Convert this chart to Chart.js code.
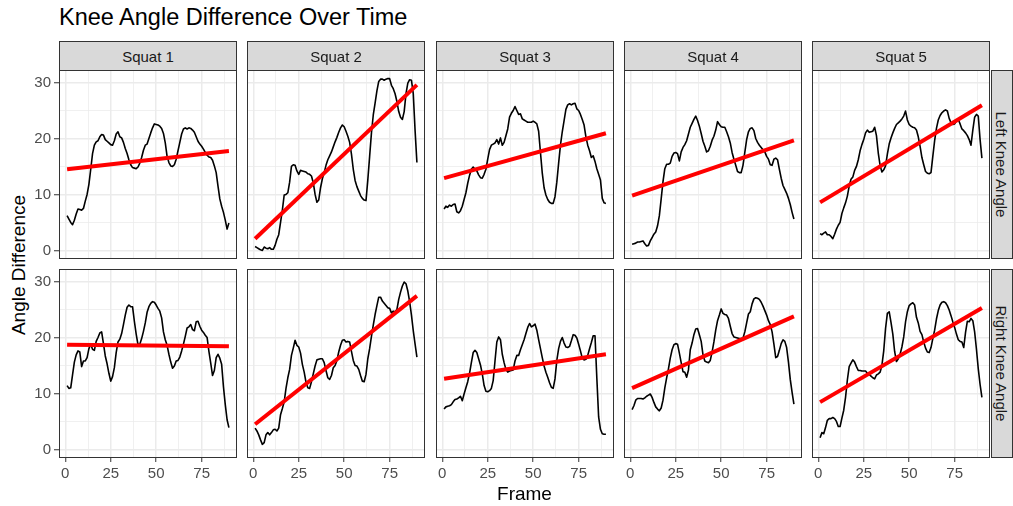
<!DOCTYPE html>
<html>
<head>
<meta charset="utf-8">
<script src="https://cdn.jsdelivr.net/npm/chart.js@4/dist/chart.umd.min.js"></script>
<style>
  html, body { margin: 0; padding: 0; background: #ffffff; }
  #fig { position: relative; width: 1013px; height: 506px; overflow: hidden;
         font-family: "Liberation Sans", Arial, sans-serif; background: #ffffff; }
  #fig canvas { position: absolute; }
  .txt { position: absolute; white-space: nowrap; }
  .strip { position: absolute; box-sizing: border-box; background: #D9D9D9;
           border: 1px solid #333333; color: #1A1A1A; font-size: 15px;
           display: flex; align-items: center; justify-content: center; }
  .strip span { white-space: nowrap; display: block; }
  .vstrip span { transform: rotate(90deg); }
</style>
</head>
<body>
<div id="fig"></div>
<script>
// ---- facet labels and axis ticks ----
const squats = ['Squat 1', 'Squat 2', 'Squat 3', 'Squat 4', 'Squat 5'];
const sides = ['Left Knee Angle', 'Right Knee Angle'];
const xTickLabels = [0, 25, 50, 75];
const yTickLabels = [0, 10, 20, 30];

// ---- knee angle difference per frame (frames 1..90) ----
const leftKnee1 = [
  6.2,5.6,5.0,4.6,5.4,6.5,7.4,7.3,7.2,7.5,
  8.8,10.0,11.8,14.5,17.3,18.8,19.4,19.6,20.3,20.7,
  20.6,19.8,19.5,19.2,18.9,18.8,19.6,20.8,21.2,20.3,
  20.1,19.3,18.2,17.3,16.2,15.3,14.8,14.7,14.6,14.9,
  15.6,16.6,17.9,18.8,19.0,20.0,21.0,21.9,22.6,22.5,
  22.4,22.2,21.8,20.9,19.2,16.8,15.7,15.1,15.0,15.3,
  16.3,17.8,19.3,20.8,21.7,21.9,21.7,21.9,21.8,21.5,
  21.1,20.3,19.5,19.0,18.6,18.1,17.5,17.0,16.7,16.6,
  16.1,15.1,13.9,11.5,9.2,7.9,6.8,5.4,3.8,4.9];
const leftKnee2 = [
  0.7,0.5,0.3,0.1,0.0,0.6,0.4,0.3,0.5,0.2,
  0.2,0.9,2.0,2.8,5.0,7.2,9.9,10.0,10.3,12.2,
  15.0,15.3,15.2,14.2,13.6,14.3,14.2,14.1,14.0,13.7,
  13.6,13.3,12.1,10.0,8.6,9.0,11.2,12.8,13.9,15.2,
  16.2,16.9,17.6,18.5,19.4,20.2,21.1,21.9,22.4,22.1,
  21.3,20.4,19.3,17.2,14.5,12.5,11.4,10.6,9.8,9.3,
  9.0,8.9,12.6,16.8,21.0,24.2,26.3,28.5,30.2,30.6,
  30.6,30.4,30.6,30.7,30.7,29.5,28.9,28.0,26.6,24.8,
  23.8,23.4,24.8,28.0,29.9,30.5,30.4,28.0,21.4,15.7];
const leftKnee3 = [
  7.4,7.9,7.7,8.1,7.9,8.2,8.3,6.9,6.7,7.1,
  7.9,9.1,10.3,12.0,13.4,14.5,14.9,14.5,14.2,13.5,
  13.0,12.9,13.6,14.5,16.3,18.0,18.8,19.0,19.2,19.8,
  19.0,20.1,18.8,19.3,20.5,21.7,23.8,24.5,25.0,25.7,
  25.0,24.3,24.4,23.5,23.3,23.1,22.9,22.9,22.9,23.1,
  22.9,22.6,21.3,17.5,13.8,11.2,9.9,9.1,8.6,8.4,
  8.4,9.6,12.2,15.6,18.8,21.2,23.2,25.2,26.0,26.2,
  26.0,26.2,26.3,25.3,25.0,24.3,23.4,22.4,20.3,18.8,
  17.8,16.6,16.9,15.9,14.6,13.6,12.6,9.3,8.5,8.4];
const leftKnee4 = [
  1.1,1.2,1.3,1.5,1.5,1.6,1.7,1.2,0.8,0.9,
  1.7,2.3,2.9,3.3,4.4,6.2,9.2,12.3,14.6,15.4,
  15.4,15.6,16.8,17.4,17.5,17.3,16.0,17.6,18.4,18.9,
  19.6,20.8,22.0,22.7,23.4,24.0,23.2,22.2,20.9,19.5,
  18.6,17.6,17.8,18.6,19.7,20.4,21.5,23.0,22.5,22.1,
  22.0,22.0,21.2,20.3,19.2,17.5,16.3,15.2,14.1,13.9,
  13.9,15.2,17.5,19.8,21.2,21.8,21.9,21.4,20.0,19.3,
  18.8,18.4,18.0,17.6,16.8,16.3,15.3,15.2,16.3,16.5,
  16.2,14.5,12.9,11.6,10.9,10.2,9.3,8.2,6.8,5.6];
const leftKnee5 = [
  3.0,2.8,3.1,3.3,2.8,2.8,2.5,2.1,2.9,3.8,
  4.5,5.0,6.6,7.6,8.5,9.7,11.5,12.7,13.1,14.3,
  15.0,16.2,17.8,18.9,19.8,21.0,21.5,21.1,21.2,21.3,
  22.0,20.5,17.4,15.2,14.0,14.4,15.1,17.2,19.0,20.1,
  21.0,21.8,22.5,22.8,23.1,23.5,24.0,24.9,23.3,22.5,
  22.2,22.0,21.9,21.5,20.3,18.6,16.6,15.3,14.1,13.8,
  13.7,13.9,16.8,19.6,21.8,23.3,24.1,24.6,24.9,25.1,
  24.9,23.6,22.8,22.5,22.6,23.1,23.4,22.6,21.7,21.4,
  21.0,20.5,19.8,18.8,21.5,23.8,24.3,24.0,19.8,16.5];
const rightKnee1 = [
  11.4,10.9,11.0,13.3,15.6,16.9,17.6,17.4,14.8,15.8,
  15.8,16.4,18.0,18.8,17.9,17.7,19.3,20.0,20.8,21.0,
  18.9,16.7,15.3,13.6,12.2,13.0,14.6,17.3,19.2,19.7,
  20.7,22.3,24.0,25.4,25.8,25.5,25.5,22.9,20.6,18.7,
  18.8,19.8,21.1,22.6,24.5,25.5,26.1,26.4,26.3,25.8,
  25.2,24.7,23.5,21.0,19.6,18.6,17.0,15.6,14.5,14.9,
  15.8,15.9,16.5,17.6,18.8,20.2,21.7,21.9,22.3,21.4,
  21.2,22.8,22.9,22.0,21.3,20.9,20.4,20.0,17.5,15.4,
  13.2,14.1,16.4,17.0,16.3,15.2,11.2,8.0,5.3,3.9];
const rightKnee2 = [
  3.8,3.3,2.6,1.7,0.9,1.2,2.6,3.0,2.6,3.0,
  3.5,3.6,3.3,3.8,6.2,7.3,8.5,10.9,12.8,14.3,
  16.8,18.1,19.5,18.6,18.3,17.2,15.2,13.8,12.0,11.0,
  10.9,12.1,13.5,14.9,16.0,16.1,16.2,16.2,15.5,14.1,
  12.8,12.5,13.2,14.6,15.0,15.9,17.4,18.6,19.5,19.6,
  19.2,19.3,19.2,17.5,15.9,15.0,14.9,14.3,13.2,12.2,
  12.1,13.4,16.2,18.0,20.2,22.2,24.1,25.7,27.2,27.2,
  26.5,26.1,25.7,25.3,25.2,24.4,24.7,24.6,25.0,26.8,
  28.1,29.2,29.9,29.6,28.3,26.4,24.0,21.2,18.8,16.5];
const rightKnee3 = [
  7.2,7.6,7.7,7.8,8.0,8.5,8.9,9.0,9.2,9.5,
  8.7,9.9,11.0,12.1,13.6,15.5,17.3,17.7,17.3,16.2,
  15.1,13.5,11.4,10.4,10.3,10.5,10.9,12.3,15.8,19.2,
  20.1,19.6,17.0,15.5,14.3,13.8,14.0,14.1,14.2,15.8,
  16.8,16.8,17.8,18.7,19.6,20.7,21.8,22.5,21.9,22.1,
  22.4,21.3,19.6,18.0,16.4,14.9,13.8,12.9,11.9,11.1,
  10.9,12.6,15.9,18.0,19.3,20.0,19.0,18.3,18.2,18.4,
  19.4,20.5,20.4,19.9,18.8,17.6,16.3,16.0,16.1,16.8,
  18.0,19.1,20.3,20.3,12.8,5.8,3.6,2.8,2.7,2.7];
const rightKnee4 = [
  7.1,7.8,8.8,9.1,9.1,9.1,9.0,9.2,9.5,9.7,
  9.9,9.3,8.4,7.6,7.2,6.9,7.4,8.8,11.0,12.8,
  14.4,16.3,17.8,18.7,18.9,18.8,17.2,15.5,13.9,13.8,
  12.9,14.2,17.8,19.0,20.5,21.5,21.6,20.5,19.3,16.9,
  15.8,15.6,15.5,15.9,17.4,19.2,21.3,23.0,24.0,25.1,
  24.3,24.1,24.0,23.4,22.0,20.7,20.1,20.0,19.9,19.8,
  19.8,19.9,21.0,22.6,24.2,24.6,26.0,26.9,27.1,27.0,
  26.8,26.3,25.6,24.8,24.0,23.0,22.3,21.0,18.8,16.4,
  16.6,17.7,18.9,19.6,19.3,18.2,15.6,12.5,10.2,8.1];
const rightKnee5 = [
  2.1,3.0,2.8,3.9,5.2,5.5,5.5,5.7,5.5,5.0,
  4.1,4.1,5.6,7.0,9.3,12.4,14.8,15.4,16.0,15.6,
  14.8,14.1,14.1,14.0,14.0,14.0,13.6,13.4,13.1,12.8,
  12.6,13.3,13.5,13.8,15.0,17.6,21.6,24.3,24.6,22.7,
  20.6,17.5,15.7,16.2,17.0,18.3,20.1,22.8,24.6,25.7,
  26.0,26.2,25.8,23.6,22.6,21.1,20.5,19.2,18.1,17.4,
  17.3,18.2,19.8,21.3,23.3,24.8,25.8,26.3,26.4,26.2,
  25.7,24.9,23.9,22.8,21.8,20.6,19.6,19.3,19.2,18.2,
  20.9,22.9,22.8,23.4,23.0,21.0,17.9,14.4,11.6,9.3];

const leftRows = [leftKnee1, leftKnee2, leftKnee3, leftKnee4, leftKnee5];
const rightRows = [rightKnee1, rightKnee2, rightKnee3, rightKnee4, rightKnee5];
const grid = [leftRows, rightRows];
const frames = leftKnee1.map((_, i) => i + 1);

// ---- page layout (px) ----
const FONT = '"Liberation Sans", Arial, sans-serif';
const PANEL_LEFT = [59, 247, 436, 624, 812];
const PANEL_W = 178;
const PANEL_TOP = [70, 269];
const PANEL_H = 189;
const Y_AXIS_W = 29;
const X_AXIS_H = 30;

// shared scales with 5% expansion on both sides
function expand(lo, hi) { const d = (hi - lo) * 0.05; return [lo - d, hi + d]; }
const allVals = [].concat(...leftRows, ...rightRows);
const [yMin, yMax] = expand(Math.min(...allVals), Math.max(...allVals));
const [xMin, xMax] = expand(Math.min(...frames), Math.max(...frames));

// minor grid lines sit halfway between labelled ticks
function withMinor(major) {
  const out = [];
  const step = major[1] - major[0];
  for (let i = 0; i < major.length; i++) {
    out.push(major[i]);
    out.push(major[i] + step / 2);
  }
  return out;
}
const xGridVals = withMinor(xTickLabels).filter(v => v <= xMax);
const yGridVals = withMinor(yTickLabels).filter(v => v <= yMax);

// least-squares straight line through one panel's series
function linearFit(xs, ys) {
  const n = xs.length;
  const mx = xs.reduce((a, b) => a + b, 0) / n;
  const my = ys.reduce((a, b) => a + b, 0) / n;
  let sxy = 0, sxx = 0;
  for (let i = 0; i < n; i++) { sxy += (xs[i] - mx) * (ys[i] - my); sxx += (xs[i] - mx) ** 2; }
  const slope = sxy / sxx;
  return { slope, intercept: my - slope * mx };
}

const panelBorder = {
  id: 'panelBorder',
  afterDraw(chart) {
    const a = chart.chartArea, c = chart.ctx;
    c.save();
    c.strokeStyle = '#333333';
    c.lineWidth = 1;
    c.strokeRect(Math.round(a.left) + 0.5, Math.round(a.top) + 0.5,
                 Math.round(a.right - a.left) - 1, Math.round(a.bottom - a.top) - 1);
    c.restore();
  }
};

// keep every panel's plotting area fixed: no extra room for label overhang
function noPadding(s) { s.paddingTop = 0; s.paddingBottom = 0; s.paddingLeft = 0; s.paddingRight = 0; }

const fig = document.getElementById('fig');

function addText(text, css) {
  const d = document.createElement('div');
  d.className = 'txt';
  d.textContent = text;
  Object.assign(d.style, css);
  fig.appendChild(d);
  return d;
}

function makePanel(r, c) {
  const series = grid[r][c];
  const showY = c === 0, showX = r === 1;
  const cv = document.createElement('canvas');
  const left = PANEL_LEFT[c] - (showY ? Y_AXIS_W : 0);
  const w = PANEL_W + (showY ? Y_AXIS_W : 0);
  const h = PANEL_H + (showX ? X_AXIS_H : 0);
  cv.width = w; cv.height = h;
  cv.style.left = left + 'px'; cv.style.top = PANEL_TOP[r] + 'px';
  cv.style.width = w + 'px'; cv.style.height = h + 'px';
  fig.appendChild(cv);

  const fit = linearFit(frames, series);
  const x0 = frames[0], x1 = frames[frames.length - 1];

  const isMajorX = v => xTickLabels.includes(v);
  const isMajorY = v => yTickLabels.includes(v);

  new Chart(cv, {
    type: 'line',
    data: {
      datasets: [
        {
          data: [{ x: x0, y: fit.intercept + fit.slope * x0 }, { x: x1, y: fit.intercept + fit.slope * x1 }],
          borderColor: '#FF0000', borderWidth: 4, pointRadius: 0, tension: 0, fill: false
        },
        {
          data: frames.map((f, i) => ({ x: f, y: series[i] })),
          borderColor: '#000000', borderWidth: 1.6, pointRadius: 0, tension: 0, fill: false,
          borderJoinStyle: 'round'
        }
      ]
    },
    options: {
      responsive: false, animation: false, devicePixelRatio: 1,
      layout: { padding: 0 },
      plugins: { legend: { display: false }, tooltip: { enabled: false } },
      events: [],
      scales: {
        x: {
          type: 'linear', min: xMin, max: xMax,
          afterBuildTicks: s => { s.ticks = xGridVals.map(v => ({ value: v })); },
          afterFit: s => { s.height = showX ? X_AXIS_H : 0; noPadding(s); },
          border: { display: false },
          grid: {
            color: '#EBEBEB',
            lineWidth: ctx => isMajorX(ctx.tick.value) ? 1.5 : 0.75,
            tickColor: ctx => (showX && isMajorX(ctx.tick.value)) ? '#333333' : 'rgba(0,0,0,0)',
            tickLength: 4, tickWidth: 1
          },
          ticks: {
            display: showX, autoSkip: false, maxRotation: 0, padding: 4,
            color: '#4D4D4D', font: { family: FONT, size: 15, lineHeight: 1 },
            callback: v => isMajorX(v) ? String(v) : ''
          }
        },
        y: {
          type: 'linear', min: yMin, max: yMax,
          afterBuildTicks: s => { s.ticks = yGridVals.map(v => ({ value: v })); },
          afterFit: s => { s.width = showY ? Y_AXIS_W : 0; noPadding(s); },
          border: { display: false },
          grid: {
            color: '#EBEBEB',
            lineWidth: ctx => isMajorY(ctx.tick.value) ? 1.5 : 0.75,
            tickColor: ctx => (showY && isMajorY(ctx.tick.value)) ? '#333333' : 'rgba(0,0,0,0)',
            tickLength: 5, tickWidth: 1
          },
          ticks: {
            display: showY, autoSkip: false, padding: 3,
            color: '#4D4D4D', font: { family: FONT, size: 15, lineHeight: 1 },
            callback: v => isMajorY(v) ? String(v) : ''
          }
        }
      }
    },
    plugins: [panelBorder]
  });
}

for (let r = 0; r < 2; r++) for (let c = 0; c < 5; c++) makePanel(r, c);

// facet strips along the top
squats.forEach((name, c) => {
  const s = document.createElement('div');
  s.className = 'strip';
  Object.assign(s.style, { left: PANEL_LEFT[c] + 'px', top: '41px', width: PANEL_W + 'px', height: (PANEL_TOP[0] - 40) + 'px' });
  const sp = document.createElement('span'); sp.textContent = name; s.appendChild(sp);
  fig.appendChild(s);
});
// facet strips down the right side
sides.forEach((name, r) => {
  const s = document.createElement('div');
  s.className = 'strip vstrip';
  Object.assign(s.style, { left: (PANEL_LEFT[4] + PANEL_W + 1) + 'px', top: PANEL_TOP[r] + 'px', width: '22px', height: PANEL_H + 'px' });
  const sp = document.createElement('span'); sp.textContent = name; s.appendChild(sp);
  fig.appendChild(s);
});

// titles
addText('Knee Angle Difference Over Time', { left: '59px', top: '6px', fontSize: '23.5px', lineHeight: '23px', color: '#000' });
addText('Frame', { left: '0px', width: '1049px', textAlign: 'center', top: '484px', fontSize: '19px', lineHeight: '19px', color: '#000' });
addText('Angle Difference', { left: '18px', top: '265px', fontSize: '19px', lineHeight: '19px', color: '#000',
  transform: 'translate(-50%, -50%) rotate(-90deg)' });
</script>
</body>
</html>
